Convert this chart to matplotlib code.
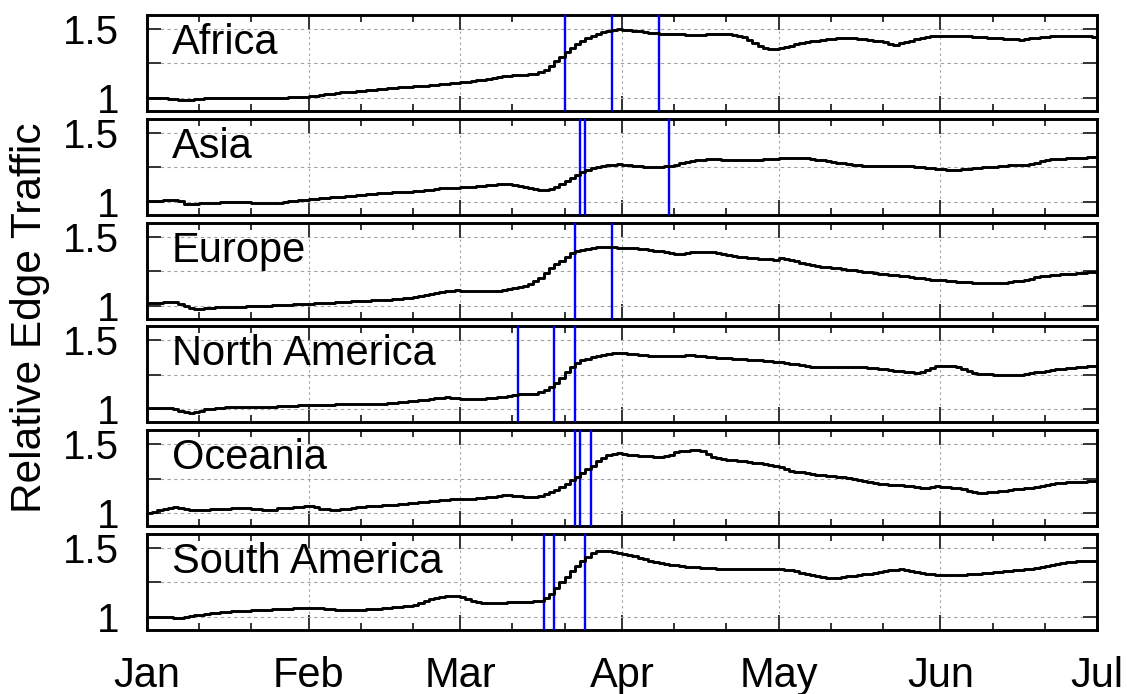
import numpy as np
import pandas as pd
import matplotlib
matplotlib.use("Agg")
import matplotlib.pyplot as plt
import matplotlib.dates as mdates

plt.rcParams["font.family"] = ["Liberation Sans", "DejaVu Sans"]

# daily relative edge traffic, 2020-01-01 .. 2020-07-01
dates = pd.date_range("2020-01-01", "2020-07-01", freq="D")

africa = [
    1.000, 1.000, 1.000, 0.998, 0.995, 0.990, 0.987, 0.985, 0.988, 0.992,
    0.996, 0.998, 0.999, 1.000, 1.000, 1.000, 0.999, 0.999, 0.999, 1.000,
    1.000, 1.000, 1.000, 1.000, 1.001, 1.002, 1.003, 1.004, 1.005, 1.007,
    1.010, 1.014, 1.018, 1.022, 1.027, 1.031, 1.036, 1.040, 1.043, 1.047,
    1.050, 1.054, 1.058, 1.061, 1.065, 1.068, 1.072, 1.074, 1.077, 1.080,
    1.082, 1.085, 1.087, 1.090, 1.094, 1.097, 1.101, 1.105, 1.108, 1.112,
    1.115, 1.119, 1.123, 1.127, 1.132, 1.138, 1.144, 1.150, 1.157, 1.163,
    1.166, 1.168, 1.170, 1.172, 1.175, 1.185, 1.205, 1.235, 1.270, 1.300,
    1.330, 1.365, 1.390, 1.416, 1.432, 1.450, 1.465, 1.478, 1.488, 1.495,
    1.497, 1.496, 1.493, 1.488, 1.482, 1.476, 1.470, 1.468, 1.466, 1.465,
    1.464, 1.462, 1.460, 1.458, 1.457, 1.457, 1.458, 1.460, 1.462, 1.463,
    1.464, 1.462, 1.456, 1.448, 1.440, 1.418, 1.395, 1.375, 1.362, 1.356,
    1.358, 1.364, 1.372, 1.380, 1.388, 1.396, 1.404, 1.410, 1.416, 1.421,
    1.425, 1.429, 1.432, 1.433, 1.433, 1.431, 1.428, 1.424, 1.420, 1.416,
    1.410, 1.402, 1.394, 1.387, 1.395, 1.405, 1.415, 1.428, 1.437, 1.443,
    1.447, 1.448, 1.448, 1.447, 1.447, 1.448, 1.448, 1.447, 1.445, 1.442,
    1.439, 1.436, 1.433, 1.431, 1.429, 1.427, 1.425, 1.423, 1.426, 1.431,
    1.436, 1.441, 1.445, 1.447, 1.449, 1.451, 1.452, 1.452, 1.450, 1.448,
    1.446, 1.445, 1.445,
]

asia = [
    1.007, 1.008, 1.009, 1.010, 1.012, 1.011, 1.005, 0.985, 0.984, 0.986,
    0.988, 0.990, 0.992, 0.994, 0.996, 0.998, 0.999, 1.000, 0.999, 0.997,
    0.994, 0.991, 0.989, 0.988, 0.990, 0.995, 1.000, 1.004, 1.008, 1.012,
    1.016, 1.020, 1.023, 1.026, 1.029, 1.032, 1.034, 1.036, 1.040, 1.044,
    1.048, 1.052, 1.056, 1.059, 1.062, 1.064, 1.066, 1.068, 1.070, 1.072,
    1.074, 1.075, 1.079, 1.084, 1.089, 1.093, 1.097, 1.100, 1.102, 1.103,
    1.105, 1.106, 1.108, 1.111, 1.115, 1.119, 1.123, 1.126, 1.127, 1.126,
    1.120, 1.114, 1.108, 1.098, 1.090, 1.084, 1.088, 1.096, 1.110, 1.130,
    1.152, 1.175, 1.195, 1.215, 1.230, 1.242, 1.252, 1.260, 1.267, 1.270,
    1.271, 1.270, 1.268, 1.262, 1.258, 1.255, 1.252, 1.252, 1.254, 1.257,
    1.260, 1.270, 1.280, 1.287, 1.294, 1.300, 1.305, 1.308, 1.308, 1.307,
    1.306, 1.305, 1.304, 1.303, 1.303, 1.304, 1.305, 1.306, 1.308, 1.310,
    1.312, 1.314, 1.317, 1.319, 1.320, 1.319, 1.316, 1.310, 1.304, 1.300,
    1.296, 1.290, 1.284, 1.278, 1.272, 1.267, 1.263, 1.260, 1.260, 1.260,
    1.260, 1.260, 1.261, 1.261, 1.260, 1.260, 1.258, 1.255, 1.251, 1.247,
    1.243, 1.240, 1.235, 1.232, 1.230, 1.232, 1.236, 1.240, 1.244, 1.247,
    1.250, 1.252, 1.255, 1.257, 1.260, 1.263, 1.266, 1.268, 1.270, 1.276,
    1.283, 1.292, 1.300, 1.308, 1.311, 1.313, 1.315, 1.315, 1.316, 1.318,
    1.322, 1.325, 1.327,
]

europe = [
    1.020, 1.021, 1.022, 1.023, 1.024, 1.024, 1.015, 0.995, 0.980, 0.976,
    0.978, 0.982, 0.986, 0.988, 0.989, 0.990, 0.991, 0.992, 0.993, 0.994,
    0.996, 0.998, 0.999, 1.000, 1.002, 1.004, 1.006, 1.008, 1.010, 1.012,
    1.013, 1.014, 1.016, 1.018, 1.020, 1.022, 1.024, 1.026, 1.028, 1.030,
    1.032, 1.034, 1.036, 1.038, 1.040, 1.042, 1.043, 1.046, 1.050, 1.054,
    1.058, 1.062, 1.069, 1.077, 1.085, 1.093, 1.100, 1.105, 1.108, 1.110,
    1.109, 1.106, 1.104, 1.103, 1.103, 1.103, 1.103, 1.108, 1.114, 1.120,
    1.126, 1.132, 1.139, 1.160, 1.180, 1.200, 1.235, 1.270, 1.300, 1.320,
    1.355, 1.380, 1.392, 1.402, 1.410, 1.418, 1.423, 1.424, 1.423, 1.422,
    1.420, 1.418, 1.416, 1.414, 1.411, 1.409, 1.404, 1.398, 1.392, 1.385,
    1.378, 1.373, 1.376, 1.381, 1.385, 1.386, 1.386, 1.386, 1.385, 1.380,
    1.371, 1.363, 1.359, 1.355, 1.351, 1.347, 1.344, 1.341, 1.338, 1.335,
    1.332, 1.344, 1.338, 1.330, 1.320, 1.310, 1.300, 1.292, 1.286, 1.282,
    1.278, 1.273, 1.269, 1.264, 1.259, 1.255, 1.250, 1.246, 1.241, 1.236,
    1.232, 1.228, 1.224, 1.220, 1.216, 1.212, 1.208, 1.203, 1.198, 1.193,
    1.188, 1.185, 1.182, 1.179, 1.176, 1.173, 1.170, 1.168, 1.167, 1.166,
    1.165, 1.164, 1.163, 1.163, 1.166, 1.170, 1.175, 1.180, 1.188, 1.196,
    1.204, 1.211, 1.216, 1.220, 1.223, 1.226, 1.229, 1.232, 1.235, 1.239,
    1.243, 1.246, 1.248,
]

north_america = [
    1.007, 1.009, 1.010, 1.011, 1.012, 1.005, 0.992, 0.980, 0.976, 0.983,
    0.992, 1.000, 1.004, 1.008, 1.011, 1.014, 1.017, 1.020, 1.020, 1.020,
    1.020, 1.020, 1.020, 1.020, 1.021, 1.022, 1.024, 1.026, 1.028, 1.029,
    1.030, 1.031, 1.032, 1.033, 1.034, 1.035, 1.036, 1.036, 1.037, 1.037,
    1.038, 1.039, 1.039, 1.040, 1.041, 1.042, 1.043, 1.047, 1.051, 1.055,
    1.060, 1.064, 1.067, 1.071, 1.075, 1.080, 1.084, 1.087, 1.085, 1.081,
    1.077, 1.074, 1.072, 1.073, 1.076, 1.080, 1.084, 1.087, 1.092, 1.098,
    1.104, 1.108, 1.111, 1.113, 1.115, 1.127, 1.140, 1.160, 1.190, 1.224,
    1.270, 1.308, 1.335, 1.355, 1.368, 1.379, 1.389, 1.397, 1.404, 1.409,
    1.408, 1.405, 1.402, 1.399, 1.396, 1.393, 1.390, 1.388, 1.386, 1.385,
    1.386, 1.388, 1.390, 1.391, 1.392, 1.390, 1.386, 1.381, 1.377, 1.373,
    1.371, 1.369, 1.367, 1.365, 1.363, 1.361, 1.360, 1.357, 1.353, 1.349,
    1.345, 1.341, 1.337, 1.332, 1.326, 1.320, 1.314, 1.309, 1.308, 1.308,
    1.308, 1.308, 1.308, 1.308, 1.307, 1.306, 1.305, 1.304, 1.302, 1.300,
    1.296, 1.291, 1.286, 1.281, 1.276, 1.272, 1.268, 1.264, 1.272, 1.287,
    1.302, 1.312, 1.316, 1.317, 1.313, 1.304, 1.292, 1.279, 1.266, 1.260,
    1.256, 1.253, 1.250, 1.248, 1.248, 1.248, 1.248, 1.251, 1.256, 1.262,
    1.268, 1.272, 1.277, 1.283, 1.289, 1.294, 1.298, 1.302, 1.305, 1.309,
    1.312, 1.315, 1.316,
]

oceania = [
    1.000, 1.012, 1.022, 1.032, 1.040, 1.043, 1.040, 1.032, 1.024, 1.024,
    1.025, 1.026, 1.028, 1.030, 1.031, 1.033, 1.035, 1.037, 1.038, 1.036,
    1.033, 1.029, 1.025, 1.021, 1.020, 1.036, 1.038, 1.040, 1.043, 1.046,
    1.050, 1.055, 1.045, 1.033, 1.028, 1.025, 1.024, 1.028, 1.033, 1.038,
    1.043, 1.046, 1.049, 1.052, 1.055, 1.058, 1.060, 1.063, 1.066, 1.070,
    1.073, 1.076, 1.079, 1.083, 1.086, 1.090, 1.094, 1.097, 1.100, 1.102,
    1.103, 1.104, 1.105, 1.107, 1.110, 1.114, 1.119, 1.124, 1.129, 1.132,
    1.128, 1.122, 1.117, 1.115, 1.117, 1.122, 1.139, 1.150, 1.165, 1.190,
    1.210, 1.240, 1.264, 1.290, 1.320, 1.345, 1.375, 1.400, 1.420, 1.430,
    1.433, 1.430, 1.425, 1.420, 1.416, 1.413, 1.411, 1.410, 1.409, 1.412,
    1.425, 1.440, 1.447, 1.452, 1.456, 1.457, 1.450, 1.430, 1.410, 1.397,
    1.392, 1.388, 1.383, 1.379, 1.375, 1.370, 1.365, 1.360, 1.353, 1.348,
    1.340, 1.331, 1.322, 1.308, 1.302, 1.296, 1.290, 1.284, 1.279, 1.276,
    1.272, 1.268, 1.264, 1.260, 1.253, 1.245, 1.238, 1.230, 1.223, 1.216,
    1.213, 1.210, 1.207, 1.204, 1.202, 1.200, 1.196, 1.191, 1.186, 1.180,
    1.188, 1.195, 1.193, 1.188, 1.183, 1.180, 1.172, 1.164, 1.155, 1.147,
    1.149, 1.152, 1.156, 1.160, 1.164, 1.168, 1.172, 1.176, 1.180, 1.186,
    1.192, 1.199, 1.206, 1.212, 1.216, 1.220, 1.224, 1.226, 1.228, 1.229,
    1.230, 1.231, 1.232,
]

south_america = [
    1.000, 1.000, 1.000, 0.999, 0.997, 0.995, 0.995, 0.998, 1.004, 1.011,
    1.018, 1.024, 1.028, 1.031, 1.035, 1.038, 1.041, 1.043, 1.045, 1.047,
    1.049, 1.050, 1.052, 1.053, 1.055, 1.057, 1.059, 1.061, 1.063, 1.065,
    1.066, 1.067, 1.066, 1.062, 1.058, 1.055, 1.053, 1.053, 1.053, 1.053,
    1.053, 1.054, 1.056, 1.058, 1.061, 1.064, 1.067, 1.070, 1.074, 1.078,
    1.083, 1.087, 1.100, 1.115, 1.130, 1.140, 1.146, 1.149, 1.151, 1.151,
    1.148, 1.130, 1.115, 1.109, 1.105, 1.103, 1.103, 1.104, 1.105, 1.106,
    1.108, 1.109, 1.110, 1.111, 1.113, 1.115, 1.135, 1.170, 1.210, 1.250,
    1.290, 1.330, 1.370, 1.405, 1.435, 1.460, 1.476, 1.478, 1.475, 1.469,
    1.462, 1.455, 1.448, 1.440, 1.430, 1.420, 1.409, 1.399, 1.390, 1.385,
    1.379, 1.373, 1.368, 1.365, 1.362, 1.359, 1.357, 1.354, 1.352, 1.350,
    1.349, 1.349, 1.349, 1.349, 1.349, 1.349, 1.349, 1.349, 1.350, 1.351,
    1.350, 1.345, 1.340, 1.337, 1.330, 1.320, 1.310, 1.303, 1.296, 1.290,
    1.286, 1.284, 1.286, 1.290, 1.295, 1.300, 1.304, 1.308, 1.314, 1.320,
    1.327, 1.333, 1.339, 1.343, 1.344, 1.340, 1.333, 1.327, 1.321, 1.315,
    1.309, 1.305, 1.303, 1.302, 1.303, 1.305, 1.307, 1.308, 1.311, 1.314,
    1.318, 1.322, 1.325, 1.327, 1.330, 1.333, 1.337, 1.341, 1.345, 1.349,
    1.354, 1.362, 1.370, 1.378, 1.385, 1.390, 1.395, 1.399, 1.402, 1.405,
    1.407, 1.409, 1.410,
]

# lockdown / policy dates (blue markers)
africa_events = ["2020-03-21", "2020-03-30", "2020-04-08"]
asia_events = ["2020-03-24", "2020-03-25", "2020-04-10"]
europe_events = ["2020-03-23", "2020-03-30"]
north_america_events = ["2020-03-12", "2020-03-19", "2020-03-23"]
oceania_events = ["2020-03-23", "2020-03-24", "2020-03-26"]
south_america_events = ["2020-03-17", "2020-03-19", "2020-03-25"]

regions = ["Africa", "Asia", "Europe", "North America", "Oceania", "South America"]
series = [africa, asia, europe, north_america, oceania, south_america]
events = [africa_events, asia_events, europe_events,
          north_america_events, oceania_events, south_america_events]

W, H = 1127, 694
fig = plt.figure(figsize=(W / 100, H / 100), dpi=100)

left, right = 147, 1097
top0, panel_h, step = 15, 96, 103.8

for k, (name, vals, ev) in enumerate(zip(regions, series, events)):
    top = top0 + k * step
    ax = fig.add_axes([left / W, 1 - (top + panel_h) / H, (right - left) / W, panel_h / H])

    for d in ev:
        ax.axvline(pd.Timestamp(d), color="#0000ff", lw=1.7, zorder=3)
    ax.step(dates, vals, where="post", color="black", lw=2.1, zorder=4)

    ax.set_xlim(pd.Timestamp("2020-01-01"), pd.Timestamp("2020-07-01"))
    ax.set_ylim(0.906, 1.601)

    ax.set_yticks([1, 1.25, 1.5])
    ax.set_yticklabels(["1", "", "1.5"])
    ax.xaxis.set_major_locator(mdates.MonthLocator())
    ax.xaxis.set_minor_locator(mdates.DayLocator(bymonthday=[11, 21]))
    ax.xaxis.set_major_formatter(mdates.DateFormatter("%b"))

    ax.grid(axis="x", which="major", color="#a0a0a0", ls=(0, (2, 3)), lw=0.8)
    ax.grid(axis="y", which="major", color="#a0a0a0", ls=(0, (3, 3)), lw=0.8)
    ax.set_axisbelow(True)

    ax.tick_params(axis="both", which="both", direction="in", top=True, right=True,
                   width=1.4, color="#333333")
    ax.tick_params(axis="x", which="major", length=11, pad=18.5, labelsize=30)
    ax.tick_params(axis="x", which="minor", length=5)
    ax.tick_params(axis="y", which="major", length=10, pad=20, labelsize=29)
    if k < len(regions) - 1:
        ax.tick_params(axis="x", which="both", labelbottom=False)

    for s in ax.spines.values():
        s.set_linewidth(2.1)

    ax.text(0.026, 0.594, name, transform=ax.transAxes, fontsize=30,
            va="baseline", ha="left", zorder=5)

fig.text(30 / W, 1 - 318 / H, "Relative Edge Traffic", rotation=90,
         fontsize=30.5, ha="center", va="center")

fig.savefig("out.png", dpi=100)
